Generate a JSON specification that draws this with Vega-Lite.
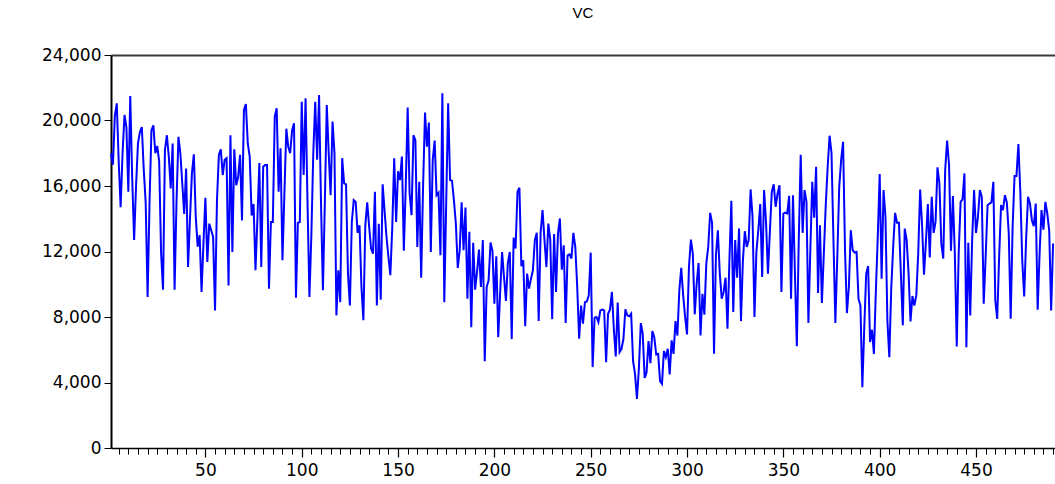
{
  "$schema": "https://vega.github.io/schema/vega-lite/v6.json",
  "autosize": "none",
  "padding": {"left": 111, "top": 55, "right": 0, "bottom": 36},
  "width": 944,
  "height": 393,
  "background": "white",
  "title": {"text": "VC", "fontSize": 15, "font": "Liberation Sans", "fontWeight": "normal", "offset": 25, "color": "black"},
  "data": {"values": [
{"i":1,"v":18000},{"i":2,"v":17300},{"i":3,"v":20300},{"i":4,"v":21050},{"i":5,"v":17500},{"i":6,"v":14700},{"i":7,"v":18000},{"i":8,"v":20340},{"i":9,"v":19600},{"i":10,"v":15650},
{"i":11,"v":21500},{"i":12,"v":16500},{"i":13,"v":12700},{"i":14,"v":16000},{"i":15,"v":18600},{"i":16,"v":19300},{"i":17,"v":19600},{"i":18,"v":17000},{"i":19,"v":15000},{"i":20,"v":9220},
{"i":21,"v":15000},{"i":22,"v":19400},{"i":23,"v":19700},{"i":24,"v":18000},{"i":25,"v":18450},{"i":26,"v":17500},{"i":27,"v":11900},{"i":28,"v":9670},{"i":29,"v":18200},{"i":30,"v":19100},
{"i":31,"v":17800},{"i":32,"v":15850},{"i":33,"v":18600},{"i":34,"v":9670},{"i":35,"v":15000},{"i":36,"v":19000},{"i":37,"v":18000},{"i":38,"v":16150},{"i":39,"v":14300},{"i":40,"v":17070},
{"i":41,"v":11050},{"i":42,"v":14000},{"i":43,"v":16770},{"i":44,"v":17930},{"i":45,"v":14100},{"i":46,"v":12300},{"i":47,"v":13000},{"i":48,"v":9530},{"i":49,"v":12500},{"i":50,"v":15280},
{"i":51,"v":11360},{"i":52,"v":13700},{"i":53,"v":13300},{"i":54,"v":12900},{"i":55,"v":8400},{"i":56,"v":15100},{"i":57,"v":17900},{"i":58,"v":18240},{"i":59,"v":16670},{"i":60,"v":17600},
{"i":61,"v":17700},{"i":62,"v":9930},{"i":63,"v":19100},{"i":64,"v":11970},{"i":65,"v":18240},{"i":66,"v":16050},{"i":67,"v":16560},{"i":68,"v":17900},{"i":69,"v":13900},{"i":70,"v":20640},
{"i":71,"v":21000},{"i":72,"v":18600},{"i":73,"v":17800},{"i":74,"v":14200},{"i":75,"v":14900},{"i":76,"v":10850},{"i":77,"v":14000},{"i":78,"v":17400},{"i":79,"v":11050},{"i":80,"v":17180},
{"i":81,"v":17280},{"i":82,"v":17280},{"i":83,"v":9730},{"i":84,"v":13800},{"i":85,"v":13800},{"i":86,"v":20240},{"i":87,"v":20750},{"i":88,"v":15650},{"i":89,"v":18300},{"i":90,"v":11460},
{"i":91,"v":15500},{"i":92,"v":19500},{"i":93,"v":18400},{"i":94,"v":18000},{"i":95,"v":19400},{"i":96,"v":19830},{"i":97,"v":9180},{"i":98,"v":13750},{"i":99,"v":13800},{"i":100,"v":21150},
{"i":101,"v":16670},{"i":102,"v":21360},{"i":103,"v":15000},{"i":104,"v":9220},{"i":105,"v":13000},{"i":106,"v":18000},{"i":107,"v":21150},{"i":108,"v":17600},{"i":109,"v":21560},{"i":110,"v":15000},
{"i":111,"v":9630},{"i":112,"v":15000},{"i":113,"v":20950},{"i":114,"v":18000},{"i":115,"v":15440},{"i":116,"v":19930},{"i":117,"v":18000},{"i":118,"v":8100},{"i":119,"v":10850},{"i":120,"v":8900},
{"i":121,"v":17700},{"i":122,"v":16160},{"i":123,"v":16100},{"i":124,"v":10650},{"i":125,"v":8700},{"i":126,"v":13800},{"i":127,"v":15140},{"i":128,"v":15030},{"i":129,"v":13140},{"i":130,"v":13600},
{"i":131,"v":9830},{"i":132,"v":7800},{"i":133,"v":13600},{"i":134,"v":15000},{"i":135,"v":13500},{"i":136,"v":12180},{"i":137,"v":11870},{"i":138,"v":15650},{"i":139,"v":8700},{"i":140,"v":13700},
{"i":141,"v":9060},{"i":142,"v":16100},{"i":143,"v":14500},{"i":144,"v":12900},{"i":145,"v":11670},{"i":146,"v":10550},{"i":147,"v":13500},{"i":148,"v":17700},{"i":149,"v":13800},{"i":150,"v":16900},
{"i":151,"v":16360},{"i":152,"v":17800},{"i":153,"v":12040},{"i":154,"v":16000},{"i":155,"v":20800},{"i":156,"v":15540},{"i":157,"v":14220},{"i":158,"v":19100},{"i":159,"v":18800},{"i":160,"v":12280},
{"i":161,"v":16260},{"i":162,"v":10400},{"i":163,"v":16000},{"i":164,"v":20480},{"i":165,"v":18400},{"i":166,"v":19870},{"i":167,"v":11970},{"i":168,"v":17600},{"i":169,"v":18770},{"i":170,"v":15440},
{"i":171,"v":15590},{"i":172,"v":11770},{"i":173,"v":21670},{"i":174,"v":8900},{"i":175,"v":15000},{"i":176,"v":21050},{"i":177,"v":16360},{"i":178,"v":16320},{"i":179,"v":15140},{"i":180,"v":13700},
{"i":181,"v":11000},{"i":182,"v":12080},{"i":183,"v":15000},{"i":184,"v":12080},{"i":185,"v":14690},{"i":186,"v":9120},{"i":187,"v":13200},{"i":188,"v":7380},{"i":189,"v":12530},{"i":190,"v":9670},
{"i":191,"v":10750},{"i":192,"v":12120},{"i":193,"v":9830},{"i":194,"v":12700},{"i":195,"v":5300},{"i":196,"v":9830},{"i":197,"v":10240},{"i":198,"v":12550},{"i":199,"v":12040},{"i":200,"v":8810},
{"i":201,"v":11710},{"i":202,"v":6770},{"i":203,"v":9500},{"i":204,"v":11970},{"i":205,"v":10440},{"i":206,"v":8980},{"i":207,"v":11300},{"i":208,"v":11970},{"i":209,"v":6650},{"i":210,"v":12850},
{"i":211,"v":12180},{"i":212,"v":15650},{"i":213,"v":15890},{"i":214,"v":11100},{"i":215,"v":11460},{"i":216,"v":7430},{"i":217,"v":10650},{"i":218,"v":9730},{"i":219,"v":10340},{"i":220,"v":10850},
{"i":221,"v":12700},{"i":222,"v":13140},{"i":223,"v":7750},{"i":224,"v":13140},{"i":225,"v":14530},{"i":226,"v":12700},{"i":227,"v":11050},{"i":228,"v":13700},{"i":229,"v":12730},{"i":230,"v":7870},
{"i":231,"v":13060},{"i":232,"v":9530},{"i":233,"v":13100},{"i":234,"v":14020},{"i":235,"v":10890},{"i":236,"v":12380},{"i":237,"v":7630},{"i":238,"v":11770},{"i":239,"v":11830},{"i":240,"v":11570},
{"i":241,"v":13140},{"i":242,"v":12280},{"i":243,"v":9830},{"i":244,"v":6670},{"i":245,"v":8700},{"i":246,"v":7590},{"i":247,"v":8900},{"i":248,"v":8950},{"i":249,"v":9320},{"i":250,"v":11930},
{"i":251,"v":4940},{"i":252,"v":7960},{"i":253,"v":8000},{"i":254,"v":7690},{"i":255,"v":8400},{"i":256,"v":8450},{"i":257,"v":8400},{"i":258,"v":5240},{"i":259,"v":8200},{"i":260,"v":8450},
{"i":261,"v":9530},{"i":262,"v":7280},{"i":263,"v":5590},{"i":264,"v":8880},{"i":265,"v":5860},{"i":266,"v":6060},{"i":267,"v":6670},{"i":268,"v":8470},{"i":269,"v":8100},{"i":270,"v":8040},
{"i":271,"v":8200},{"i":272,"v":5300},{"i":273,"v":4530},{"i":274,"v":3000},{"i":275,"v":4840},{"i":276,"v":7630},{"i":277,"v":6980},{"i":278,"v":4280},{"i":279,"v":4630},{"i":280,"v":6530},
{"i":281,"v":5180},{"i":282,"v":7140},{"i":283,"v":6770},{"i":284,"v":5710},{"i":285,"v":5750},{"i":286,"v":4080},{"i":287,"v":3920},{"i":288,"v":5920},{"i":289,"v":5550},{"i":290,"v":6060},
{"i":291,"v":4490},{"i":292,"v":6570},{"i":293,"v":5750},{"i":294,"v":7750},{"i":295,"v":6870},{"i":296,"v":9630},{"i":297,"v":11000},{"i":298,"v":9320},{"i":299,"v":8000},{"i":300,"v":6940},
{"i":301,"v":11060},{"i":302,"v":12730},{"i":303,"v":11870},{"i":304,"v":8160},{"i":305,"v":10040},{"i":306,"v":11300},{"i":307,"v":6870},{"i":308,"v":9420},{"i":309,"v":8140},{"i":310,"v":11260},
{"i":311,"v":12280},{"i":312,"v":14360},{"i":313,"v":13750},{"i":314,"v":5750},{"i":315,"v":11770},{"i":316,"v":13300},{"i":317,"v":10650},{"i":318,"v":9120},{"i":319,"v":9530},{"i":320,"v":10400},
{"i":321,"v":7280},{"i":322,"v":11460},{"i":323,"v":15100},{"i":324,"v":8300},{"i":325,"v":12700},{"i":326,"v":10400},{"i":327,"v":13400},{"i":328,"v":7750},{"i":329,"v":11460},{"i":330,"v":13240},
{"i":331,"v":12280},{"i":332,"v":12700},{"i":333,"v":15790},{"i":334,"v":14120},{"i":335,"v":8000},{"i":336,"v":11970},{"i":337,"v":13300},{"i":338,"v":14900},{"i":339,"v":10440},{"i":340,"v":15750},
{"i":341,"v":13800},{"i":342,"v":10650},{"i":343,"v":13200},{"i":344,"v":15650},{"i":345,"v":16100},{"i":346,"v":14730},{"i":347,"v":15540},{"i":348,"v":16050},{"i":349,"v":9530},{"i":350,"v":14320},
{"i":351,"v":14380},{"i":352,"v":14320},{"i":353,"v":15400},{"i":354,"v":9120},{"i":355,"v":15440},{"i":356,"v":10650},{"i":357,"v":6220},{"i":358,"v":12700},{"i":359,"v":17900},{"i":360,"v":13140},
{"i":361,"v":15750},{"i":362,"v":15030},{"i":363,"v":7630},{"i":364,"v":12080},{"i":365,"v":16260},{"i":366,"v":14060},{"i":367,"v":17180},{"i":368,"v":9470},{"i":369,"v":13600},{"i":370,"v":8850},
{"i":371,"v":11870},{"i":372,"v":14830},{"i":373,"v":17180},{"i":374,"v":19070},{"i":375,"v":18000},{"i":376,"v":12700},{"i":377,"v":7630},{"i":378,"v":11670},{"i":379,"v":15950},{"i":380,"v":17600},
{"i":381,"v":18700},{"i":382,"v":12080},{"i":383,"v":8240},{"i":384,"v":9830},{"i":385,"v":13300},{"i":386,"v":12080},{"i":387,"v":11930},{"i":388,"v":11970},{"i":389,"v":9120},{"i":390,"v":8700},
{"i":391,"v":3710},{"i":392,"v":7380},{"i":393,"v":10650},{"i":394,"v":11120},{"i":395,"v":6470},{"i":396,"v":7220},{"i":397,"v":5750},{"i":398,"v":9530},{"i":399,"v":12900},{"i":400,"v":16730},
{"i":401,"v":10340},{"i":402,"v":15750},{"i":403,"v":14120},{"i":404,"v":7750},{"i":405,"v":5550},{"i":406,"v":9730},{"i":407,"v":12280},{"i":408,"v":14360},{"i":409,"v":13750},{"i":410,"v":13750},
{"i":411,"v":10650},{"i":412,"v":7490},{"i":413,"v":13400},{"i":414,"v":12700},{"i":415,"v":10650},{"i":416,"v":7730},{"i":417,"v":9280},{"i":418,"v":8700},{"i":419,"v":9320},{"i":420,"v":11870},
{"i":421,"v":15790},{"i":422,"v":13600},{"i":423,"v":10590},{"i":424,"v":12590},{"i":425,"v":14900},{"i":426,"v":11630},{"i":427,"v":15340},{"i":428,"v":13140},{"i":429,"v":13810},{"i":430,"v":17140},
{"i":431,"v":16160},{"i":432,"v":12480},{"i":433,"v":11570},{"i":434,"v":16970},{"i":435,"v":18770},{"i":436,"v":17300},{"i":437,"v":12040},{"i":438,"v":15380},{"i":439,"v":11870},{"i":440,"v":6200},
{"i":441,"v":11870},{"i":442,"v":15030},{"i":443,"v":15180},{"i":444,"v":16770},{"i":445,"v":6160},{"i":446,"v":12530},{"i":447,"v":8100},{"i":448,"v":12700},{"i":449,"v":15750},{"i":450,"v":13140},
{"i":451,"v":14120},{"i":452,"v":15750},{"i":453,"v":15340},{"i":454,"v":8810},{"i":455,"v":11670},{"i":456,"v":14830},{"i":457,"v":14930},{"i":458,"v":15000},{"i":459,"v":16260},{"i":460,"v":9020},
{"i":461,"v":7890},{"i":462,"v":11670},{"i":463,"v":14830},{"i":464,"v":14530},{"i":465,"v":15440},{"i":466,"v":15000},{"i":467,"v":13100},{"i":468,"v":7890},{"i":469,"v":13500},{"i":470,"v":16610},
{"i":471,"v":16610},{"i":472,"v":18560},{"i":473,"v":15650},{"i":474,"v":11460},{"i":475,"v":9260},{"i":476,"v":12700},{"i":477,"v":15340},{"i":478,"v":14930},{"i":479,"v":13910},{"i":480,"v":13550},
{"i":481,"v":14930},{"i":482,"v":8450},{"i":483,"v":11870},{"i":484,"v":14530},{"i":485,"v":13340},{"i":486,"v":15030},{"i":487,"v":14320},{"i":488,"v":13260},{"i":489,"v":8400},{"i":490,"v":12490}
  ]},
  "layer": [
    {
      "mark": {"type": "line", "color": "#0000ff", "strokeWidth": 2, "opacity": 0},
      "encoding": {
        "x": {"field": "i", "type": "quantitative", "scale": {"domain": [1, 491], "nice": false, "zero": false},
              "axis": {"orient": "top", "labels": false, "ticks": false, "domain": true, "domainColor": "#3a3a3a", "domainWidth": 2, "title": null, "grid": false}},
        "y": {"field": "v", "type": "quantitative", "scale": {"domain": [0, 24000], "nice": false},
              "axis": {"values": [0,4000,8000,12000,16000,20000,24000], "format": ",d", "tickSize": 7, "labelPadding": 3, "domainWidth": 2, "title": null, "grid": false}}
      }
    },
    {
      "mark": {"type": "line", "color": "#0000ff", "strokeWidth": 2, "opacity": 0},
      "encoding": {
        "x": {"field": "i", "type": "quantitative",
              "axis": {"orient": "bottom", "values": [5,10,15,20,25,30,35,40,45,55,60,65,70,75,80,85,90,95,105,110,115,120,125,130,135,140,145,155,160,165,170,175,180,185,190,195,205,210,215,220,225,230,235,240,245,255,260,265,270,275,280,285,290,295,305,310,315,320,325,330,335,340,345,355,360,365,370,375,380,385,390,395,405,410,415,420,425,430,435,440,445,455,460,465,470,475,480,485,490],
                       "labels": false, "tickSize": 6, "tickWidth": 1, "domain": false, "title": null, "grid": false}},
        "y": {"field": "v", "type": "quantitative",
              "axis": {"values": [0,4000,8000,12000,16000,20000,24000], "format": ",d", "tickSize": 7, "labelPadding": 3, "domainWidth": 2, "title": null, "grid": false}}
      }
    },
    {
      "mark": {"type": "line", "color": "#0000ff", "strokeWidth": 2},
      "encoding": {
        "x": {"field": "i", "type": "quantitative",
              "axis": {"orient": "bottom", "values": [50,100,150,200,250,300,350,400,450], "tickSize": 9, "tickWidth": 1.2, "labelPadding": 5, "domainWidth": 1.5, "title": null, "grid": false}},
        "y": {"field": "v", "type": "quantitative",
              "axis": {"values": [0,4000,8000,12000,16000,20000,24000], "format": ",d", "tickSize": 7, "labelPadding": 3, "domainWidth": 2, "title": null, "grid": false}}
      }
    }
  ],
  "resolve": {"axis": {"x": "independent"}},
  "config": {
    "view": {"stroke": null},
    "axis": {"labelFont": "DejaVu Sans", "labelFontSize": 17, "labelColor": "black", "domainColor": "black", "tickColor": "black", "grid": false}
  }
}
